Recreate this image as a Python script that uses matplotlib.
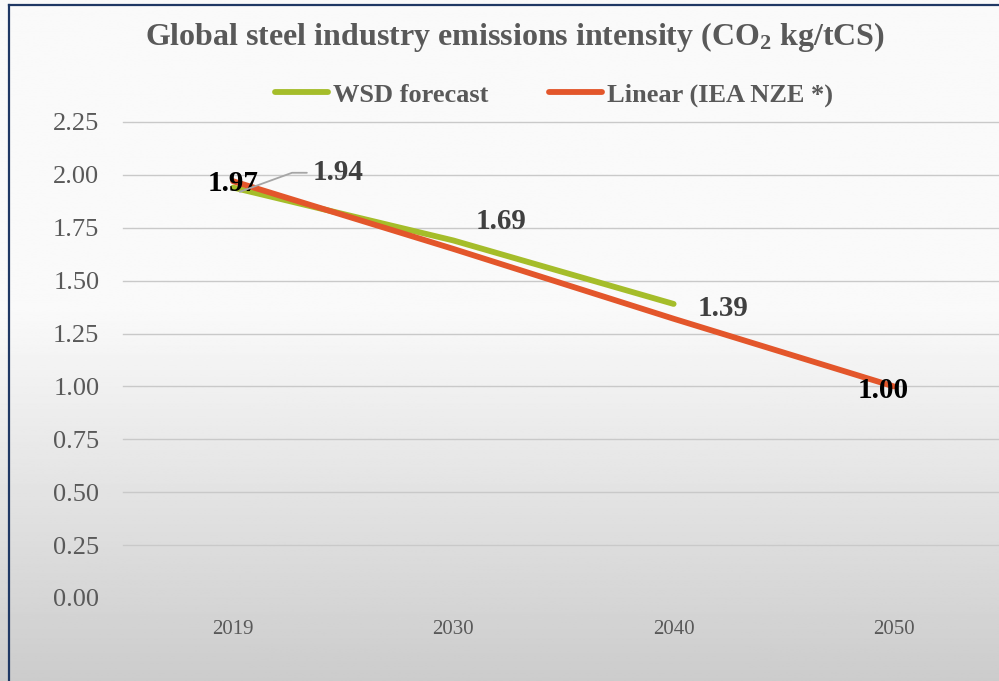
import numpy as np
import matplotlib
matplotlib.use("Agg")
import matplotlib.pyplot as plt
from matplotlib.lines import Line2D

years = ["2019", "2030", "2040", "2050"]
wsd_forecast = [1.94, 1.69, 1.39]
linear_nze = [1.97, 1.65, 1.32, 1.00]
y_ticks = [0.00, 0.25, 0.50, 0.75, 1.00, 1.25, 1.50, 1.75, 2.00, 2.25]

GREEN = "#a5bd2a"
RED = "#e3562b"
GREY_TEXT = "#595959"

plt.rcParams["font.family"] = ["Liberation Serif", "DejaVu Serif"]
plt.rcParams["mathtext.default"] = "regular"

W, H = 999, 681
fig = plt.figure(figsize=(W / 100, H / 100), dpi=100)


def fx(px):
	return px / W


def fy(py):
	return 1 - py / H


# soft gray gradient behind everything
bg = fig.add_axes([0, 0, 1, 1], zorder=-10)
rows = np.linspace(0, 1, 400)
shade = np.where(rows < 0.45, 0.98, 0.98 - (rows - 0.45) / 0.55 * 0.18)
bg.imshow(np.repeat(shade[:, None], 2, axis=1), cmap="gray", vmin=0, vmax=1,
	aspect="auto", extent=[0, 1, 0, 1])
bg.axis("off")

# frame edge on the left and top
fig.add_artist(Line2D([fx(9), fx(9)], [0, fy(5)], color="#1f3864", lw=1.6,
	transform=fig.transFigure))
fig.add_artist(Line2D([fx(9), 1], [fy(5), fy(5)], color="#1f3864", lw=1.6,
	transform=fig.transFigure))

ax = fig.add_axes([fx(123), fy(598), fx(1004 - 123), (598 - 122) / H])
ax.set_facecolor("none")
for s in ax.spines.values():
	s.set_visible(False)

x = np.arange(len(years))
ax.plot(x[:len(wsd_forecast)], wsd_forecast, color=GREEN, lw=4.2,
	solid_capstyle="round", label="WSD forecast", zorder=3)
ax.plot(x, linear_nze, color=RED, lw=4.2, solid_capstyle="round",
	label="Linear (IEA NZE *)", zorder=4)

ax.set_xlim(-0.5, 3.5)
ax.set_ylim(0, 2.25)
ax.set_xticks(x)
ax.set_xticklabels(years)
ax.set_yticks(y_ticks)
ax.set_yticklabels(["%.2f" % v for v in y_ticks])
ax.tick_params(axis="both", length=0, colors=GREY_TEXT)
ax.tick_params(axis="y", labelsize=19, pad=17)
ax.tick_params(axis="x", labelsize=15, pad=16)

for v in y_ticks[1:]:
	ax.axhline(v, color="#c9c9c9", lw=1.0, zorder=1, clip_on=False)

# data labels
lbl = dict(fontsize=21, fontweight="bold", zorder=6)
ax.text(x[0], linear_nze[0] - 0.01, "%.2f" % linear_nze[0], ha="center",
	va="center", color="black", **lbl)
ax.text(x[3] - 0.05, linear_nze[3] - 0.02, "%.2f" % linear_nze[3], ha="center",
	va="center", color="black", **lbl)
ax.annotate("%.2f" % wsd_forecast[0], xy=(x[0] + 0.03, wsd_forecast[0] - 0.02),
	xytext=(x[0] + 0.36, wsd_forecast[0] + 0.07), ha="left", va="center",
	color="#404040", fontsize=21, fontweight="bold", zorder=6,
	arrowprops=dict(arrowstyle="-", color="#a6a6a6", lw=1.3,
		connectionstyle="angle,angleA=0,angleB=20,rad=0",
		shrinkA=2, shrinkB=0))
ax.text(x[1] + 0.10, wsd_forecast[1] + 0.09, "%.2f" % wsd_forecast[1],
	ha="left", va="center", color="#404040", **lbl)
ax.text(x[2] + 0.11, wsd_forecast[2] - 0.02, "%.2f" % wsd_forecast[2],
	ha="left", va="center", color="#404040", **lbl)

fig.text(fx(515), fy(37), "Global steel industry emissions intensity (CO$_2$ kg/tCS)",
	ha="center", va="center", fontsize=23, fontweight="bold", color=GREY_TEXT)

leg = ax.legend(loc="center", bbox_to_anchor=(fx(554), fy(95)),
	bbox_transform=fig.transFigure, ncol=2, frameon=False,
	handlelength=2.0, handletextpad=0.2, columnspacing=2.3,
	prop={"size": 19, "weight": "bold"})
for t in leg.get_texts():
	t.set_color(GREY_TEXT)

fig.savefig("out.png", dpi=100)
